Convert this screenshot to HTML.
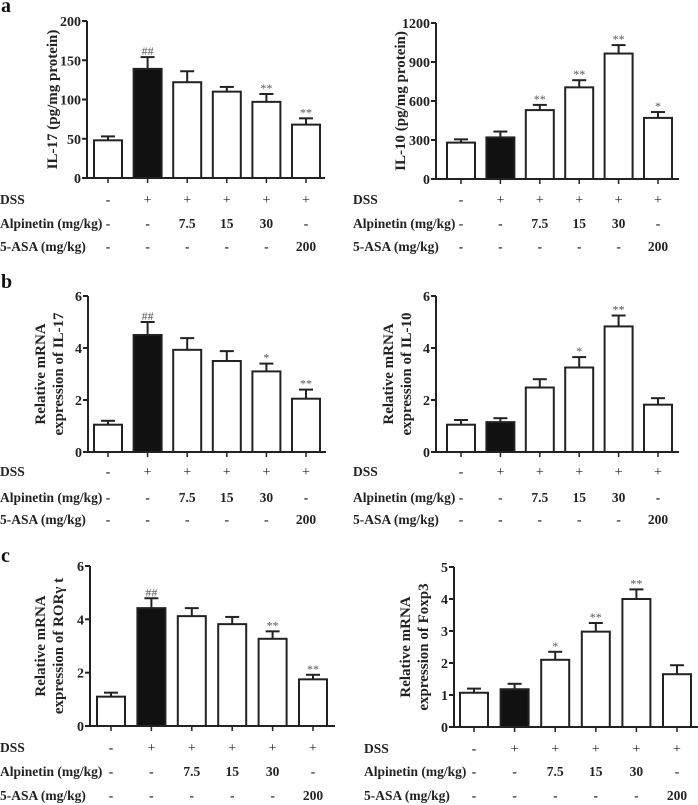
<!DOCTYPE html>
<html><head><meta charset="utf-8"><style>
body{margin:0;background:#fff;}
svg{display:block;font-family:"Liberation Serif",serif;}
</style></head><body>
<svg id="fig" width="698" height="805"></svg>
<script>
const groups=["Control","DSS","Alp 7.5","Alp 15","Alp 30","5-ASA"];
const dssRow=["-","+","+","+","+","+"];
const alpRow=["-","-","7.5","15","30","-"];
const asaRow=["-","-","-","-","-","200"];
const aLeftVals=[48,139,122,110,97,68];
const aLeftErr=[5,15,14,6,10,8];
const aLeftSig=["","##","","","**","**"];
const aLeftTicks=[0,50,100,150,200];
const aRightVals=[280,320,530,705,965,470];
const aRightErr=[25,45,40,55,65,45];
const aRightSig=["","","**","**","**","*"];
const aRightTicks=[0,300,600,900,1200];
const bLeftVals=[1.05,4.5,3.93,3.5,3.1,2.05];
const bLeftErr=[0.15,0.5,0.45,0.38,0.3,0.35];
const bLeftSig=["","##","","","*","**"];
const bRightVals=[1.05,1.15,2.48,3.25,4.83,1.82];
const bRightErr=[0.18,0.15,0.32,0.4,0.42,0.25];
const bRightSig=["","","","*","**",""];
const sixTicks=[0,2,4,6];
const cLeftVals=[1.1,4.42,4.12,3.82,3.27,1.75];
const cLeftErr=[0.15,0.37,0.3,0.27,0.28,0.17];
const cLeftSig=["","##","","","**","**"];
const cRightVals=[1.07,1.18,2.1,2.98,4.0,1.65];
const cRightErr=[0.13,0.17,0.25,0.27,0.3,0.28];
const cRightSig=["","","*","**","**",""];
const fiveTicks=[0,1,2,3,4,5];

const NS="http://www.w3.org/2000/svg";
const svg=document.getElementById('fig');
function mk(tag,attrs,parent,text){const e=document.createElementNS(NS,tag);for(const k in attrs)e.setAttribute(k,attrs[k]);if(text!==undefined)e.textContent=text;(parent||svg).appendChild(e);return e;}

function panel(p){
  const g=mk('g',{});
  
  
  const max=p.ticks[p.ticks.length-1];
  const y=v=>p.y0-(v/max)*(p.y0-p.yTop);
  const xc=i=>p.c0+p.step*i;
  const bw=28;
  const ya=mk('line',{x1:p.ax,y1:p.yTop,x2:p.ax,y2:p.y0+1,stroke:'#222','stroke-width':2},g);
  
  const xa=mk('line',{x1:p.ax-1,y1:p.y0,x2:p.xEnd,y2:p.y0,stroke:'#222','stroke-width':2},g);
  
  p.ticks.forEach(t=>{
    mk('line',{x1:p.ax-5,y1:y(t),x2:p.ax,y2:y(t),stroke:'#222','stroke-width':2},g);
    const tl=mk('text',{x:p.ax-6,y:y(t)+5,'text-anchor':'end','font-size':14,'font-weight':'bold',fill:'#222'},g,t);
    
  });
  const tx=p.titleX, ty=(p.yTop+p.y0)/2;
  const tt=mk('text',{transform:`translate(${tx},${ty}) rotate(-90)`,'text-anchor':'middle','font-size':15,'font-weight':'bold',fill:'#222'},g);
  
  p.title.forEach((line,i)=>{mk('tspan',{x:0,dy:i===0?(p.title.length>1?-3:5):18},tt,line);});
  p.vals.forEach((v,i)=>{
    const cx=xc(i);
    mk('line',{x1:cx,y1:p.y0,x2:cx,y2:p.y0+5,stroke:'#222','stroke-width':1.5},g);
    const top=y(v), et=y(v+p.err[i]);
    const el=mk('line',{x1:cx,y1:top,x2:cx,y2:et,stroke:'#222','stroke-width':2},g);
    
    mk('line',{x1:cx-bw/4,y1:et,x2:cx+bw/4,y2:et,stroke:'#222','stroke-width':2},g);
    const r=mk('rect',{x:cx-bw/2,y:top,width:bw,height:p.y0-top,fill:i===1?'#111':'#fff',stroke:'#222','stroke-width':2},g);
    
    
    if(p.sig[i]){const s=mk('text',{x:cx,y:et-2,'text-anchor':'middle','font-size':12,fill:'#555'},g,p.sig[i]);
      }
  });
  const rows=[["DSS",dssRow],["Alpinetin (mg/kg)",alpRow],["5-ASA (mg/kg)",asaRow]];
  rows.forEach((r,ri)=>{
    const ry=p.rows[ri];
    const l=mk('text',{x:p.labX,y:ry,'font-size':13.5,'font-weight':'bold',fill:'#222'},g,r[0]);
    
    r[1].forEach((c,i)=>{const t=mk('text',{x:xc(i),y:ry,'text-anchor':'middle','font-size':c==='+'?14:13.5,'font-weight':c==='+'?'normal':'bold',fill:'#222'},g,c);
      });
  });
}
function label(t,x,y){const e=mk('text',{x:x,y:y,'font-size':20,'font-weight':'bold',fill:'#111'},svg,t);
  }
label('a',1,12);label('b',1,288);label('c',1,562);

panel({name:'panel-a-il17',ax:87,yTop:21,y0:178,xEnd:325,c0:108,step:39.6,ticks:aLeftTicks,vals:aLeftVals,err:aLeftErr,sig:aLeftSig,title:['IL-17 (pg/mg protein)'],titleX:52,rows:[204,228,251],labX:0});
panel({name:'panel-a-il10',ax:436,yTop:23,y0:179,xEnd:679,c0:461,step:39.4,ticks:aRightTicks,vals:aRightVals,err:aRightErr,sig:aRightSig,title:['IL-10 (pg/mg protein)'],titleX:400,rows:[204,228,251],labX:353});
panel({name:'panel-b-il17',ax:88,yTop:296,y0:452,xEnd:326,c0:108,step:39.6,ticks:sixTicks,vals:bLeftVals,err:bLeftErr,sig:bLeftSig,title:['Relative mRNA','expression of IL-17'],titleX:48,rows:[476,502,524],labX:0});
panel({name:'panel-b-il10',ax:436,yTop:296,y0:452,xEnd:679,c0:461,step:39.4,ticks:sixTicks,vals:bRightVals,err:bRightErr,sig:bRightSig,title:['Relative mRNA','expression of IL-10'],titleX:396,rows:[476,502,524],labX:353});
panel({name:'panel-c-rorgt',ax:90,yTop:566,y0:726,xEnd:335,c0:111,step:40.4,ticks:sixTicks,vals:cLeftVals,err:cLeftErr,sig:cLeftSig,title:['Relative mRNA','expression of ROR\u03B3 t'],titleX:48,rows:[752,776,800],labX:0});
panel({name:'panel-c-foxp3',ax:454,yTop:567,y0:727,xEnd:698,c0:474,step:40.6,ticks:fiveTicks,vals:cRightVals,err:cRightErr,sig:cRightSig,title:['Relative mRNA','expression of Foxp3'],titleX:413,rows:[753,776,800],labX:364});
</script>
</body></html>
